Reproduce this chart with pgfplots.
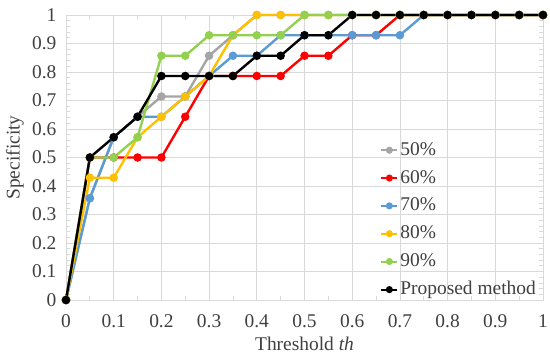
\documentclass[border=0pt]{standalone}
\usepackage{pgfplots}
\pgfplotsset{compat=1.18}
\usepackage{fontspec}
\setmainfont{Liberation Serif}
\definecolor{cgray}{HTML}{A5A5A5}
\definecolor{cred}{HTML}{FF0000}
\definecolor{cblue}{HTML}{5B9BD5}
\definecolor{cyellow}{HTML}{FFC000}
\definecolor{cgreen}{HTML}{92D050}
\definecolor{gridc}{HTML}{D9D9D9}
\begin{document}
\fontsize{19.5}{23}\selectfont
\begin{tikzpicture}
\begin{axis}[
  at={(0,0)}, anchor=south west,
  scale only axis, width=477bp, height=285bp,
  xmin=0, xmax=1, ymin=0, ymax=1,
  xtick={0,0.1,...,1.0}, ytick={0,0.1,...,1.0},
  xticklabels={0,0.1,0.2,0.3,0.4,0.5,0.6,0.7,0.8,0.9,1},
  yticklabels={0,0.1,0.2,0.3,0.4,0.5,0.6,0.7,0.8,0.9,1},
  minor x tick num=1, minor y tick num=4,
  grid=major, major grid style={gridc, line width=0.8pt},
  axis line style={gridc, line width=0.8pt},
  tick style={gridc, line width=0.8pt},
  major tick length=4bp, minor tick length=4bp,
  tick align=inside,
  ticklabel style={font=\fontsize{19.5}{23}\selectfont, text=black!75},
  xticklabel style={yshift=-8bp},
  yticklabel style={xshift=-3bp},
  /pgf/number format/assume math mode=true,
  xlabel={Threshold \textit{th}},
  ylabel={Specificity},
  label style={font=\fontsize{19.5}{23}\selectfont, text=black!75},
  xlabel style={yshift=4bp},
  ylabel style={yshift=-5bp},
  every axis plot/.append style={line width=2.4pt, mark=*, mark size=3pt},
  legend style={at={(1,0)}, anchor=south east, xshift=-5bp, yshift=0bp, draw=none, fill=none,
    font=\fontsize{19.5}{23}\selectfont, text=black!75, row sep=8bp, cells={anchor=west},
    inner sep=0pt},
  legend image code/.code={
    \draw[#1, line width=2pt, mark size=2.5pt] plot coordinates {(0,0) (8bp,0) (16bp,0)};
  },
  legend image post style={mark repeat=2, mark phase=2},
  clip=false,
]
\addplot[cgray, mark options={fill=cgray}] coordinates {
(0,0) (0.05,0.357) (0.1,0.571) (0.15,0.643) (0.2,0.714) (0.25,0.714) (0.3,0.857) (0.35,0.929) (0.4,1) (0.45,1) (0.5,1) (0.55,1) (0.6,1) (0.65,1) (0.7,1) (0.75,1) (0.8,1) (0.85,1) (0.9,1) (0.95,1) (1,1)};
\addlegendentry{50\%}
\addplot[cred, mark options={fill=cred}] coordinates {
(0,0) (0.05,0.5) (0.1,0.5) (0.15,0.5) (0.2,0.5) (0.25,0.643) (0.3,0.786) (0.35,0.786) (0.4,0.786) (0.45,0.786) (0.5,0.857) (0.55,0.857) (0.6,0.929) (0.65,0.929) (0.7,1) (0.75,1) (0.8,1) (0.85,1) (0.9,1) (0.95,1) (1,1)};
\addlegendentry{60\%}
\addplot[cblue, mark options={fill=cblue}] coordinates {
(0,0) (0.05,0.357) (0.1,0.571) (0.15,0.643) (0.2,0.643) (0.25,0.714) (0.3,0.786) (0.35,0.857) (0.4,0.857) (0.45,0.929) (0.5,0.929) (0.55,0.929) (0.6,0.929) (0.65,0.929) (0.7,0.929) (0.75,1) (0.8,1) (0.85,1) (0.9,1) (0.95,1) (1,1)};
\addlegendentry{70\%}
\addplot[cyellow, mark options={fill=cyellow}] coordinates {
(0,0) (0.05,0.429) (0.1,0.429) (0.15,0.571) (0.2,0.643) (0.25,0.714) (0.3,0.786) (0.35,0.929) (0.4,1) (0.45,1) (0.5,1) (0.55,1) (0.6,1) (0.65,1) (0.7,1) (0.75,1) (0.8,1) (0.85,1) (0.9,1) (0.95,1) (1,1)};
\addlegendentry{80\%}
\addplot[cgreen, mark options={fill=cgreen}] coordinates {
(0,0) (0.05,0.5) (0.1,0.5) (0.15,0.571) (0.2,0.857) (0.25,0.857) (0.3,0.929) (0.35,0.929) (0.4,0.929) (0.45,0.929) (0.5,1) (0.55,1) (0.6,1) (0.65,1) (0.7,1) (0.75,1) (0.8,1) (0.85,1) (0.9,1) (0.95,1) (1,1)};
\addlegendentry{90\%}
\addplot[black, mark options={fill=black}] coordinates {
(0,0) (0.05,0.5) (0.1,0.571) (0.15,0.643) (0.2,0.786) (0.25,0.786) (0.3,0.786) (0.35,0.786) (0.4,0.857) (0.45,0.857) (0.5,0.929) (0.55,0.929) (0.6,1) (0.65,1) (0.7,1) (0.75,1) (0.8,1) (0.85,1) (0.9,1) (0.95,1) (1,1)};
\addlegendentry{Proposed method}
\end{axis}
\pgfresetboundingbox
\path (-66bp,-55bp) rectangle (484bp,300bp);
\end{tikzpicture}
\end{document}
